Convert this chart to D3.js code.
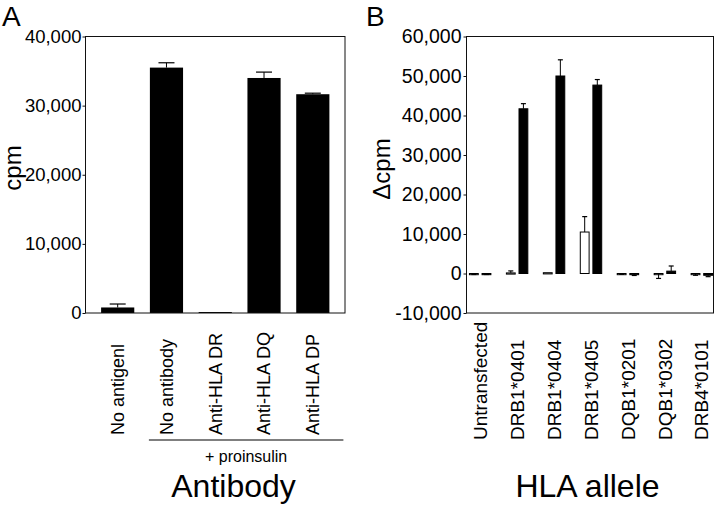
<!DOCTYPE html>
<html>
<head>
<meta charset="utf-8">
<script src="https://cdn.jsdelivr.net/npm/d3@7"></script>
<style>
  body { margin: 0; background: #fff; }
  svg { display: block; font-family: "Liberation Sans", Arial, Helvetica, sans-serif; }
</style>
</head>
<body>
<div id="chart"></div>
<script>
// panel A data
const antibodyLabels = ["No antigenl", "No antibody", "Anti-HLA DR", "Anti-HLA DQ", "Anti-HLA DP"];
const cpmValues = [800, 35500, 100, 34000, 31650];
const cpmErrors = [500, 700, 0, 850, 150];
const yTicksA = [0, 10000, 20000, 30000, 40000];

// panel B data
const alleles = ["Untransfected", "DRB1*0401", "DRB1*0404", "DRB1*0405", "DQB1*0201", "DQB1*0302", "DRB4*0101"];
const openValues = [-150, 150, 200, 10500, -100, -150, -150];
const openErrors = [100, 500, 0, 3900, 100, 1100, 300];
const filledValues = [-150, 41700, 50000, 47700, -100, 600, -450];
const filledErrors = [100, 1300, 4100, 1400, 400, 1300, 350];
const yTicksB = [-10000, 0, 10000, 20000, 30000, 40000, 50000, 60000];

const fmt = d3.formatLocale({
  decimal: ".", thousands: ",", grouping: [3], currency: ["$", ""], minus: "-"
}).format(",");

const svg = d3.select("#chart").append("svg")
  .attr("width", 720)
  .attr("height", 505);

svg.append("rect").attr("width", 720).attr("height", 505).attr("fill", "#fff");

// draw error bar (vertical line + cap) away from zero
function errorBar(g, cx, yScale, v, e, capW) {
  if (!e) return;
  const y1 = yScale(v);
  const y2 = yScale(v >= 0 ? v + e : v - e);
  g.append("line").attr("x1", cx).attr("x2", cx).attr("y1", y1).attr("y2", y2)
    .attr("stroke", "#000").attr("stroke-width", 1);
  g.append("line").attr("x1", cx - capW / 2).attr("x2", cx + capW / 2).attr("y1", y2).attr("y2", y2)
    .attr("stroke", "#000").attr("stroke-width", 1.2);
}

// ---------------- panel A ----------------
const dimA = { left: 85.5, top: 36.5, width: 259.5, height: 276.5 };

const boundsA = svg.append("g")
  .attr("transform", `translate(${dimA.left},${dimA.top})`);

const xA = d3.scaleBand()
  .domain(antibodyLabels)
  .range([0, dimA.width])
  .paddingInner(0.32)
  .paddingOuter(0.32);

const yA = d3.scaleLinear()
  .domain([0, 40000])
  .range([dimA.height, 0]);

boundsA.selectAll("rect.bar")
  .data(antibodyLabels)
  .join("rect")
  .attr("class", "bar")
  .attr("x", (d) => xA(d))
  .attr("width", xA.bandwidth())
  .attr("y", (d, i) => Math.min(yA(cpmValues[i]), yA(0) - 1))
  .attr("height", (d, i) => Math.max(yA(0) - yA(cpmValues[i]), 1))
  .attr("fill", "#000");

antibodyLabels.forEach((d, i) => {
  errorBar(boundsA, xA(d) + xA.bandwidth() / 2, yA, cpmValues[i], cpmErrors[i], 16);
});

// frame
boundsA.append("rect")
  .attr("width", dimA.width).attr("height", dimA.height)
  .attr("fill", "none").attr("stroke", "#111").attr("stroke-width", 1);

const yAxisA = boundsA.append("g")
  .call(d3.axisLeft(yA).tickValues(yTicksA).tickSize(3).tickPadding(1).tickFormat(fmt));
yAxisA.select(".domain").remove();
yAxisA.selectAll("line").attr("stroke", "#111");
yAxisA.selectAll("text")
  .attr("fill", "#000")
  .style("font-size", "18.5px")
  .style("font-family", "Liberation Sans, Arial, sans-serif");

// category labels
boundsA.selectAll("text.cat")
  .data(antibodyLabels)
  .join("text")
  .attr("class", "cat")
  .attr("transform", (d) => `translate(${xA(d) + xA.bandwidth() / 2},${435 - dimA.top}) rotate(-90)`)
  .attr("dy", "0.35em")
  .attr("text-anchor", "start")
  .style("font-size", "18px")
  .text((d) => d);

// "+ proinsulin" bracket
const bx1 = xA(antibodyLabels[1]) - 1;
const bx2 = xA(antibodyLabels[4]) + xA.bandwidth() + 14;
boundsA.append("line")
  .attr("x1", bx1).attr("x2", bx2)
  .attr("y1", 440 - dimA.top).attr("y2", 440 - dimA.top)
  .attr("stroke", "#000").attr("stroke-width", 1.2);
boundsA.append("text")
  .attr("x", (bx1 + bx2) / 2)
  .attr("y", 462 - dimA.top)
  .attr("text-anchor", "middle")
  .style("font-size", "16px")
  .text("+ proinsulin");

svg.append("text")
  .attr("x", 233.5).attr("y", 497)
  .attr("text-anchor", "middle")
  .style("font-size", "32px")
  .text("Antibody");

svg.append("text")
  .attr("transform", "translate(21,168) rotate(-90)")
  .attr("text-anchor", "middle")
  .style("font-size", "24px")
  .text("cpm");

svg.append("text")
  .attr("x", 2).attr("y", 26)
  .style("font-size", "28px")
  .text("A");

// ---------------- panel B ----------------
const dimB = { left: 466.5, top: 36.5, width: 247, height: 276.5 };

const boundsB = svg.append("g")
  .attr("transform", `translate(${dimB.left},${dimB.top})`);

const xB = d3.scaleBand()
  .domain(alleles)
  .range([0, dimB.width + 2])
  .paddingInner(0.42)
  .paddingOuter(0.08);

const xSub = d3.scaleBand()
  .domain(["open", "filled"])
  .range([0, xB.bandwidth()])
  .paddingInner(0.3);

const yB = d3.scaleLinear()
  .domain([-10000, 60000])
  .range([dimB.height, 0]);

const seriesB = [
  { key: "open", values: openValues, errors: openErrors, fill: "#fff" },
  { key: "filled", values: filledValues, errors: filledErrors, fill: "#000" },
];

seriesB.forEach((s) => {
  boundsB.selectAll(`rect.${s.key}`)
    .data(alleles)
    .join("rect")
    .attr("class", s.key)
    .attr("x", (d) => xB(d) + xSub(s.key))
    .attr("width", xSub.bandwidth())
    .attr("y", (d, i) => yB(Math.max(s.values[i], 0)))
    .attr("height", (d, i) => Math.max(Math.abs(yB(s.values[i]) - yB(0)), 1.2))
    .attr("fill", s.fill)
    .attr("stroke", "#000")
    .attr("stroke-width", 1);

  alleles.forEach((d, i) => {
    errorBar(boundsB, xB(d) + xSub(s.key) + xSub.bandwidth() / 2, yB, s.values[i], s.errors[i], 5);
  });
});

boundsB.append("rect")
  .attr("width", dimB.width).attr("height", dimB.height)
  .attr("fill", "none").attr("stroke", "#111").attr("stroke-width", 1);

const yAxisB = boundsB.append("g")
  .call(d3.axisLeft(yB).tickValues(yTicksB).tickSize(3).tickPadding(2).tickFormat(fmt));
yAxisB.select(".domain").remove();
yAxisB.selectAll("line").attr("stroke", "#111");
yAxisB.selectAll("text")
  .attr("fill", "#000")
  .style("font-size", "19.5px")
  .style("font-family", "Liberation Sans, Arial, sans-serif");

boundsB.selectAll("text.cat")
  .data(alleles)
  .join("text")
  .attr("class", "cat")
  .attr("transform", (d) => `translate(${xB(d) + xB.bandwidth() / 2},${440 - dimB.top}) rotate(-90)`)
  .attr("dy", "0.35em")
  .attr("text-anchor", "start")
  .style("font-size", "19px")
  .text((d) => d);

svg.append("text")
  .attr("x", 587.5).attr("y", 497)
  .attr("text-anchor", "middle")
  .style("font-size", "32px")
  .text("HLA allele");

svg.append("text")
  .attr("transform", "translate(390,169) rotate(-90)")
  .attr("text-anchor", "middle")
  .style("font-size", "24px")
  .text("Δcpm");

svg.append("text")
  .attr("x", 366).attr("y", 26)
  .style("font-size", "28px")
  .text("B");
</script>
</body>
</html>
